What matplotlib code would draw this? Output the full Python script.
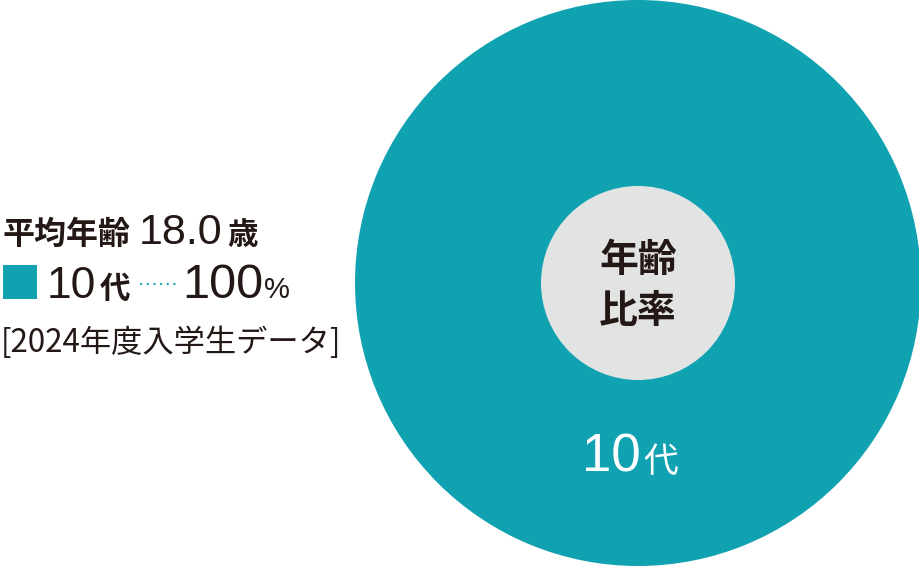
import matplotlib.pyplot as plt
from matplotlib.patches import Circle, Rectangle

plt.rcParams['font.family'] = ['Noto Sans CJK JP', 'DejaVu Sans']

# data
categories = ['10代']
shares = [100]
avg_age = 18.0
year = 2024
center_label = '年齢\n比率'

teal = '#11a2b2'
inner_grey = '#e1e4e2'
ink = '#231815'
num_font = ['Liberation Sans', 'Noto Sans CJK JP']
cx, cy, r_out, r_in = 638, 283, 283, 97


def num_cjk(x, y, num, cjk, num_size, cjk_size, color, gap=3, weight='normal', family=None):
    # digits in a Helvetica-like face, the sign after it a bit smaller
    t = ax.text(x, y, num, fontsize=num_size, family=num_font, color=color, va='baseline')
    fig.canvas.draw()
    bb = t.get_window_extent().transformed(ax.transData.inverted())
    ax.text(bb.x1 + gap, y, cjk, fontsize=cjk_size, color=color, va='baseline',
            fontweight=weight, family=family)


fig = plt.figure(figsize=(9.2, 5.66), dpi=100)
ax = fig.add_axes([0, 0, 1, 1])

# outer pie, one wedge
wedges, _ = ax.pie(shares, colors=[teal], center=(cx, cy), radius=r_out, startangle=-90)
ax.add_patch(Circle((cx, cy), r_in, facecolor=inner_grey, edgecolor='none', zorder=3))
ax.text(cx, cy + 3, center_label, ha='center', va='center', fontsize=28, color=ink,
        fontweight='bold', linespacing=1.4, zorder=4)

ax.set_xlim(0, 920)
ax.set_ylim(566, 0)
ax.set_aspect('equal')
ax.axis('off')

# label inside the wedge
num_cjk(582, 472, categories[0][:-1], categories[0][-1], 38, 25, 'white', gap=3)

# legend block on the left
ax.text(3, 244, '平均年齢', fontsize=23, color=ink, va='baseline', fontweight='bold')
num_cjk(139, 244, '%.1f' % avg_age, '歳', 31, 22, ink, gap=5, weight='bold')

ax.add_patch(Rectangle((3, 265), 34, 34, facecolor=teal, edgecolor='none'))
num_cjk(47, 298, categories[0][:-1], categories[0][-1], 32, 22, ink, gap=3, weight='bold')
ax.plot([141, 175], [284, 284], color=teal, linestyle=(0, (0.1, 2.9)), linewidth=1.6,
        dash_capstyle='round')
num_cjk(182, 298, '%d' % shares[0], '%', 35, 21, ink, gap=1, family=num_font)

ax.text(1, 352, '[%d年度入学生データ]' % year, fontsize=22.5, color=ink, va='baseline')

fig.savefig('out.png', dpi=100)
